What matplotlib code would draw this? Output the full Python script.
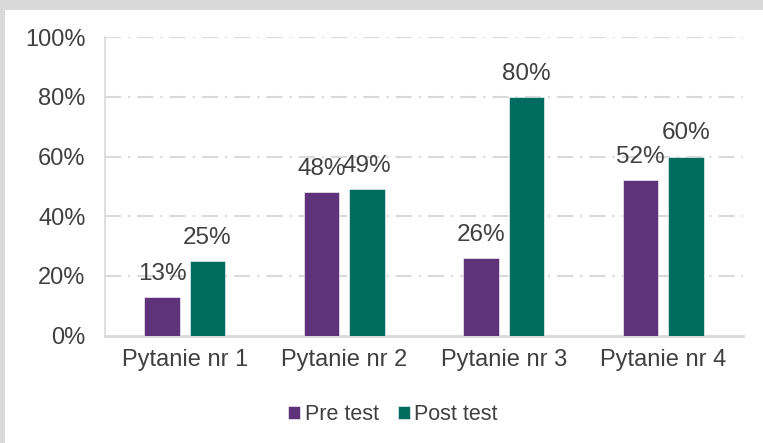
import matplotlib
matplotlib.use("Agg")
import matplotlib.pyplot as plt
from matplotlib.patches import Rectangle
import numpy as np

categories = ["Pytanie nr 1", "Pytanie nr 2", "Pytanie nr 3", "Pytanie nr 4"]
pre_test = [13, 48, 26, 52]
post_test = [25, 49, 80, 60]
series_names = ["Pre test", "Post test"]
y_ticks = [0, 20, 40, 60, 80, 100]

plt.rcParams['font.family'] = ['Liberation Sans', 'DejaVu Sans']
text_color = "#404040"
purple = "#5E3379"
green = "#006B5F"
grid_color = "#D9D9D9"

fig = plt.figure(figsize=(7.63, 4.43), dpi=100)
fig.patch.set_facecolor("#D9D9D9")
bg = Rectangle((5 / 763, 0), 1, 1 - 10 / 443, transform=fig.transFigure,
               facecolor="white", edgecolor="none", zorder=-10)
fig.add_artist(bg)

ax = fig.add_axes([105 / 763, 1 - 335.7 / 443, (743 - 105) / 763, (335.7 - 37.2) / 443])
ax.set_facecolor("none")

x = np.arange(len(categories))
w = 0.225
off = 0.1425
b1 = ax.bar(x - off, pre_test, w, color=purple, label=series_names[0], zorder=3,
            edgecolor="white", linewidth=0.4)
b2 = ax.bar(x + off, post_test, w, color=green, label=series_names[1], zorder=3,
            edgecolor="white", linewidth=0.4)

for bars, vals in ((b1, pre_test), (b2, post_test)):
    for rect, v in zip(bars, vals):
        ax.annotate(f"{v}%", (rect.get_x() + rect.get_width() / 2, v),
                    xytext=(0, 12.5), textcoords="offset points",
                    ha="center", va="baseline", fontsize=17.5, color=text_color, zorder=4)

ax.set_xlim(-0.5, len(categories) - 0.5)
ax.set_ylim(0, 100)
ax.set_yticks(y_ticks)
ax.set_yticklabels([f"{t}%" for t in y_ticks])
ax.set_xticks(x)
ax.set_xticklabels(categories)
ax.tick_params(axis="y", length=0, pad=14, labelsize=17, labelcolor=text_color)
ax.tick_params(axis="x", length=0, pad=9.5, labelsize=17, labelcolor=text_color)

for yv in y_ticks[1:]:
    ax.axhline(yv, color=grid_color, linewidth=1.5, dashes=(7.7, 3.4, 1, 3.4), zorder=1)

for s in ("top", "right"):
    ax.spines[s].set_visible(False)
ax.spines["left"].set_color(grid_color)
ax.spines["left"].set_linewidth(1.2)
ax.spines["bottom"].set_color(grid_color)
ax.spines["bottom"].set_linewidth(2)

leg = fig.legend(loc="center", bbox_to_anchor=(393 / 763, 1 - 415 / 443), ncol=2,
                 frameon=False, fontsize=15.5, handlelength=0.55, handleheight=0.55,
                 handletextpad=0.2, columnspacing=0.9, labelcolor=text_color)

fig.savefig("out.png", dpi=100, facecolor=fig.get_facecolor())
